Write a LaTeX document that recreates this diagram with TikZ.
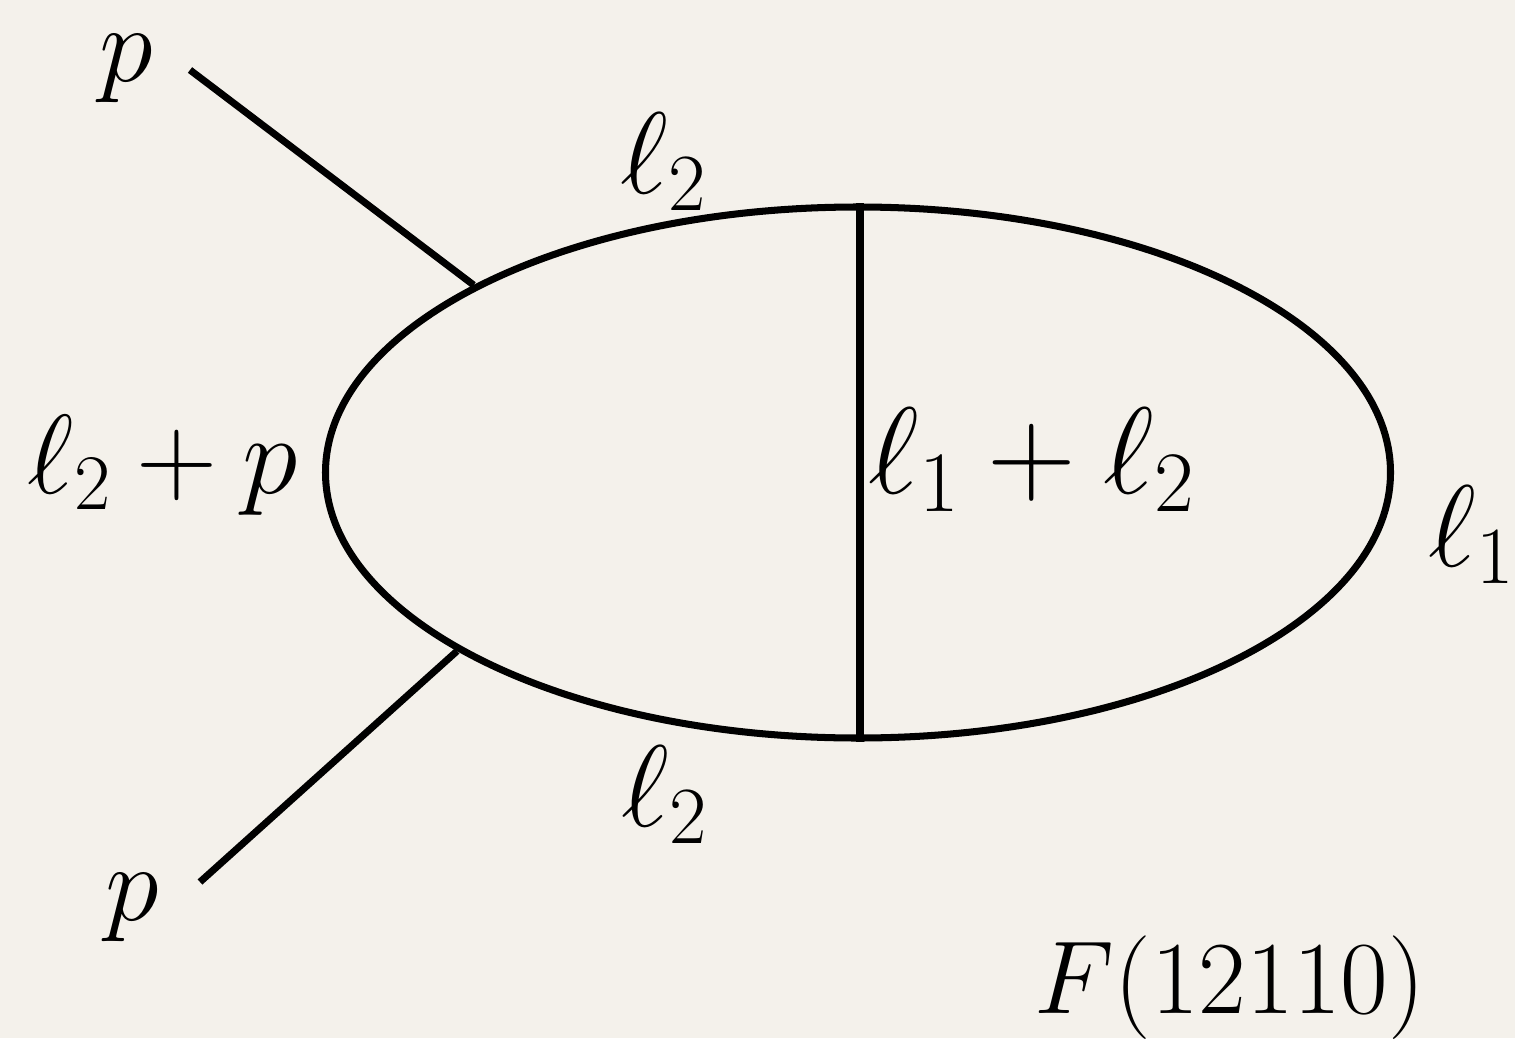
\RequirePackage{fix-cm}
\documentclass[tikz,border=0pt]{standalone}
\usetikzlibrary{shapes.geometric}
\definecolor{paper}{RGB}{244,241,235}
\begin{document}
\begin{tikzpicture}[scale=1,
    prop/.style={line width=2pt},
    lbl/.style={font=\fontsize{33}{38}\selectfont, inner sep=0pt}]
    % Hintergrund
    \fill[paper] (0,0) rectangle (15.15,10.38);
    \useasboundingbox (0,0) rectangle (15.15,10.38);
    % Schleife
    \node[prop, draw, ellipse, minimum width=10.65cm, minimum height=5.31cm, inner sep=0pt] (loop) at (8.58,5.655) {};
    \coordinate (mid) at (8.60,5.655);
    \coordinate (vtop) at (mid |- loop.north);
    \coordinate (vbot) at (mid |- loop.south);
    \draw[prop] (vtop) -- (vbot);
    % Beine
    \coordinate (pin) at (1.90,9.68);
    \coordinate (pout) at (2.00,1.56);
    \draw[prop] (pin) -- (loop.154.6);
    \draw[prop] (pout) -- (loop.204.4);
    % Beschriftungen
    \node[lbl, font=\fontsize{31}{36}\selectfont] (lp1) at (1.26,9.69) {$p$};
    \node[lbl, font=\fontsize{31}{36}\selectfont] (lp2) at (1.32,1.30) {$p$};
    \node[lbl] (ltop) at (6.64,8.76) {$\ell_2$};
    \node[lbl] (lbot) at (6.65,2.43) {$\ell_2$};
    \node[lbl, font=\fontsize{32}{37}\selectfont] (lleft) at (1.63,5.73) {$\ell_2+p$};
    \node[lbl, font=\fontsize{35}{40}\selectfont] (lmid) at (10.32,5.78) {$\ell_1+\ell_2$};
    \node[lbl] (lright) at (14.72,5.03) {$\ell_1$};
    \node[lbl, font=\fontsize{29.5}{34}\selectfont] (name) at (12.30,0.50) {$F(12110)$};
\end{tikzpicture}
\end{document}
